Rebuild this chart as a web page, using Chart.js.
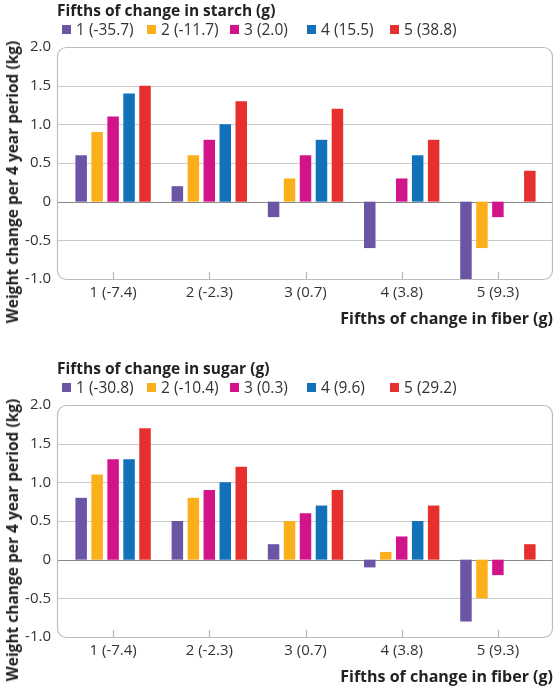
<!DOCTYPE html>
<html>
<head>
<meta charset="utf-8">
<script src="https://cdn.jsdelivr.net/npm/chart.js@4/dist/chart.umd.min.js"></script>
<style>
  body { margin: 0; background: #fff; font-family: "Open Sans", sans-serif; color: #333; }
  #page { position: relative; width: 555px; height: 687px; overflow: hidden; }
  .panel { position: absolute; left: 0; width: 555px; height: 345px; }
  .panel canvas { position: absolute; left: 0; top: 0; }
  .ttl { position: absolute; left: 57px; top: 1px; font-weight: 700; font-size: 15.5px; line-height: 19px; color: #222; white-space: nowrap; }
  .legend { position: absolute; left: 62px; top: 20px; font-size: 15.5px; line-height: 18px; white-space: nowrap; display: flex; }
  .legend span.item { display: inline-flex; align-items: center; }
  .legend i { display: inline-block; width: 9px; height: 9px; margin-right: 5px; }
  .ytitle { position: absolute; left: 12px; top: 182px; font-weight: 700; font-size: 15.5px; color: #222; white-space: nowrap;
            transform: translate(-50%, -50%) rotate(-90deg); }
  .xtitle { position: absolute; right: 2px; top: 308px; font-weight: 700; font-size: 16px; line-height: 20px; color: #222; white-space: nowrap; }
</style>
</head>
<body>
<div id="page">
  <div class="panel" id="p1" style="top:0">
    <canvas id="c1" width="555" height="330"></canvas>
    <div class="ttl">Fifths of change in starch (g)</div>
    <div class="legend" id="l1"></div>
    <div class="ytitle">Weight change per 4 year period (kg)</div>
    <div class="xtitle">Fifths of change in fiber (g)</div>
  </div>
  <div class="panel" id="p2" style="top:358px">
    <canvas id="c2" width="555" height="330"></canvas>
    <div class="ttl">Fifths of change in sugar (g)</div>
    <div class="legend" id="l2"></div>
    <div class="ytitle">Weight change per 4 year period (kg)</div>
    <div class="xtitle">Fifths of change in fiber (g)</div>
  </div>
</div>
<script>
// categories on x axis
const fiberLabels = ["1 (-7.4)", "2 (-2.3)", "3 (0.7)", "4 (3.8)", "5 (9.3)"];

// series names
const starchLabels = ["1 (-35.7)", "2 (-11.7)", "3 (2.0)", "4 (15.5)", "5 (38.8)"];
const sugarLabels = ["1 (-30.8)", "2 (-10.4)", "3 (0.3)", "4 (9.6)", "5 (29.2)"];

// starch fifths, one value per fiber fifth
const starch1 = [0.6, 0.2, -0.2, -0.6, -1.0];
const starch2 = [0.9, 0.6, 0.3, 0, -0.6];
const starch3 = [1.1, 0.8, 0.6, 0.3, -0.2];
const starch4 = [1.4, 1.0, 0.8, 0.6, 0];
const starch5 = [1.5, 1.3, 1.2, 0.8, 0.4];

// sugar fifths
const sugar1 = [0.8, 0.5, 0.2, -0.1, -0.8];
const sugar2 = [1.1, 0.8, 0.5, 0.1, -0.5];
const sugar3 = [1.3, 0.9, 0.6, 0.3, -0.2];
const sugar4 = [1.3, 1.0, 0.7, 0.5, 0];
const sugar5 = [1.7, 1.2, 0.9, 0.7, 0.2];

const yMin = -1.0;
const yMax = 2.0;
const yStep = 0.5;

const colors = ["#6a56a4", "#fbb01b", "#d2148b", "#1271b8", "#e6302e"];
const legendWidths = [85, 83, 77, 83, 0];

// box, grid lines and tick marks drawn through the scales
const panelBox = {
  id: "panelBox",
  beforeDatasetsDraw(chart) {
    const { ctx, chartArea, scales } = chart;
    const x = scales.x, y = scales.y;
    const left = chartArea.left - 8;
    const right = chartArea.right + 6;
    const top = y.getPixelForValue(yMax);
    const bottom = y.getPixelForValue(yMin);
    ctx.save();
    ctx.lineWidth = 1.2;
    y.ticks.forEach((t) => {
      if (t.value === yMax || t.value === yMin) return;
      const py = Math.round(y.getPixelForValue(t.value)) + 0.5;
      ctx.strokeStyle = t.value === 0 ? "#8a8a8a" : "#c9c9c9";
      ctx.beginPath();
      ctx.moveTo(left, py);
      ctx.lineTo(right, py);
      ctx.stroke();
    });
    // tick marks at the bottom
    ctx.strokeStyle = "#b5b5b5";
    fiberLabels.forEach((_, i) => {
      const px = Math.round(x.getPixelForValue(i)) + 0.5;
      ctx.beginPath();
      ctx.moveTo(px, bottom);
      ctx.lineTo(px, bottom - 7);
      ctx.stroke();
    });
    // rounded frame
    ctx.strokeStyle = "#bdbdbd";
    ctx.beginPath();
    ctx.roundRect(left + 0.5, top + 0.5, right - left, bottom - top, 9);
    ctx.stroke();
    ctx.restore();
  },
};

function makeLegend(id, names) {
  const el = document.getElementById(id);
  names.forEach((n, i) => {
    const s = document.createElement("span");
    s.className = "item";
    if (legendWidths[i]) s.style.width = legendWidths[i] + "px";
    s.innerHTML = '<i style="background:' + colors[i] + '"></i>' + n;
    el.appendChild(s);
  });
}

function makeChart(canvasId, names, series) {
  const ctx = document.getElementById(canvasId).getContext("2d");
  return new Chart(ctx, {
    type: "bar",
    data: {
      labels: fiberLabels,
      datasets: series.map((d, i) => ({
        label: names[i],
        data: d,
        backgroundColor: colors[i],
        borderWidth: 0,
        categoryPercentage: 0.83,
        barPercentage: 0.72,
      })),
    },
    options: {
      responsive: false,
      animation: false,
      layout: { padding: { left: 0, right: 9, top: 47, bottom: 21 } },
      plugins: { legend: { display: false }, tooltip: { enabled: false } },
      scales: {
        x: {
          grid: { display: false, drawTicks: false },
          border: { display: false },
          ticks: { color: "#333", font: { family: "Open Sans", size: 15 }, padding: 5 },
          afterFit: (s) => { s.height = 30; },
        },
        y: {
          min: yMin,
          max: yMax,
          grid: { display: false, drawTicks: false },
          border: { display: false },
          ticks: {
            stepSize: yStep,
            color: "#333",
            font: { family: "Open Sans", size: 15 },
            padding: 14,
            callback: (v) => (v === 0 ? "0" : v.toFixed(1)),
          },
          afterFit: (s) => { s.width = 65; },
        },
      },
    },
    plugins: [panelBox],
  });
}

makeLegend("l1", starchLabels);
makeLegend("l2", sugarLabels);
makeChart("c1", starchLabels, [starch1, starch2, starch3, starch4, starch5]);
makeChart("c2", sugarLabels, [sugar1, sugar2, sugar3, sugar4, sugar5]);
</script>
</body>
</html>
